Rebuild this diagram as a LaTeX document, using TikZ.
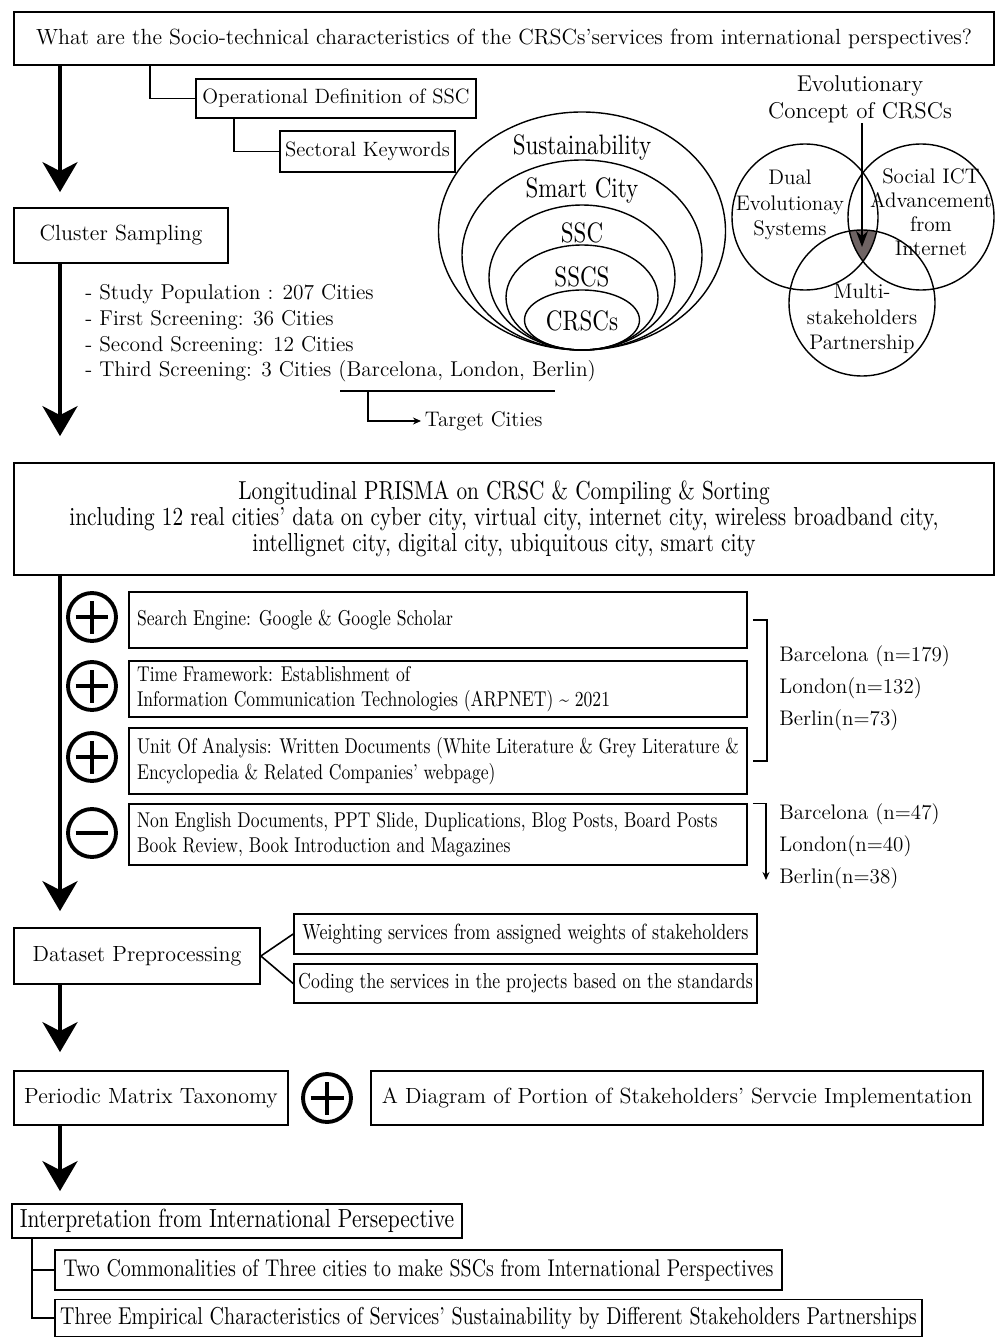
\documentclass[tikz,border=0pt]{standalone}
\usepackage{fontspec}
\newfontfamily\condfont{lmroman10-regular.otf}[FakeStretch=0.82,Ligatures=TeX]
\usepackage{tikz}
\usetikzlibrary{arrows.meta,calc}
\definecolor{VennCore}{HTML}{6F6464}

\begin{document}
\begin{tikzpicture}[
  x=0.02cm,y=-0.02cm,
  box/.style={draw,line width=1pt,inner sep=0pt,align=center,
    font=\fontsize{12.5}{14.6}\selectfont},
  condbox/.style={box,font=\condfont\fontsize{12.2}{14.6}\selectfont},
  widebox/.style={box,font=\condfont\fontsize{#1}{14.8}\selectfont},
  leftbox/.style={align=flush left,inner xsep=0.16cm,text width=#1},
  lab/.style={inner sep=0pt,align=center,font=\fontsize{12}{14.6}\selectfont},
  ringlab/.style={inner sep=0pt,font=\condfont\fontsize{16}{17}\selectfont},
  spinearrow/.style={-{Stealth[length=0.6cm,width=0.7cm,inset=0.18cm]},line width=2.2pt},
  thinarrow/.style={-{Stealth[length=0.16cm,width=0.14cm]},line width=0.7pt},
  link/.style={line width=0.9pt},
  plussym/.style={circle,draw,line width=2.2pt,minimum size=0.96cm,inner sep=0pt,
    path picture={\draw[line width=2.4pt]
      ([xshift=-0.33cm]path picture bounding box.center) -- ([xshift=0.33cm]path picture bounding box.center)
      ([yshift=-0.33cm]path picture bounding box.center) -- ([yshift=0.33cm]path picture bounding box.center);}},
  minussym/.style={circle,draw,line width=2.2pt,minimum size=0.96cm,inner sep=0pt,
    path picture={\draw[line width=2.4pt]
      ([xshift=-0.33cm]path picture bounding box.center) -- ([xshift=0.33cm]path picture bounding box.center);}}
]
  \useasboundingbox (0,0) rectangle (1000,1338);
  \coordinate (spine) at (60,0);

  % research question and definitions
  \node[box,minimum width=19.6cm,minimum height=1.06cm] (question) at (504,38.5)
    {What are the Socio-technical characteristics of the CRSCs'services from international perspectives?};
  \node[box,font=\fontsize{11.8}{14}\selectfont,minimum width=5.6cm,minimum height=0.78cm] (opdef) at (336,98.5)
    {Operational Definition of SSC};
  \node[box,font=\fontsize{11.8}{14}\selectfont,minimum width=3.5cm,minimum height=0.82cm] (keywords) at (367.5,151.5)
    {Sectoral Keywords};
  \coordinate (qtap) at (150,0);
  \coordinate (otap) at (234,0);
  \draw[link] (question.south -| qtap) |- (opdef.west);
  \draw[link] (opdef.south -| otap) |- (keywords.west);

  % sampling
  \node[box,minimum width=4.28cm,minimum height=1.1cm] (cluster) at (121,235.5) {Cluster Sampling};
  \node[lab,anchor=west,align=left,font=\fontsize{12.2}{14.6}\selectfont] (screening) at (85,333.5)
    {- Study Population : 207 Cities\\- First Screening: 36 Cities\\- Second Screening: 12 Cities\\
     - Third Screening: 3 Cities (Barcelona, London, Berlin)};
  \coordinate (ulstart) at (340,391);
  \coordinate (ulend) at (555,391);
  \coordinate (ulknee) at (368,391);
  \node[lab,anchor=west,inner sep=2pt] (target) at (421,421) {Target Cities};
  \draw[link] (ulstart) -- (ulend);
  \draw[thinarrow] (ulknee) |- (target.west);

  % nested concepts
  \foreach \rx/\ry/\ly/\txt/\nm in {143.5/119/147/Sustainability/sus, 120/95/190/Smart City/smart,
      93/72.5/233/SSC/ssc, 76/52.5/277/SSCS/sscs, 57.5/30/321/CRSCs/crsc} {
    \draw[line width=0.8pt] (582,350-\ry) ellipse [x radius=\rx, y radius=\ry];
    \node[ringlab] (ring-\nm) at (582,\ly) {\txt};
  }

  % venn
  \begin{scope}
    \clip (805,217) circle [radius=73];
    \clip (921,217) circle [radius=73];
    \fill[VennCore] (862,303) circle [radius=73];
  \end{scope}
  \draw[line width=0.8pt] (805,217) circle [radius=73];
  \draw[line width=0.8pt] (921,217) circle [radius=73];
  \draw[line width=0.8pt] (862,303) circle [radius=73];
  \node[lab,font=\fontsize{13}{15.6}\selectfont] (concept) at (860,99) {Evolutionary\\Concept of CRSCs};
  \node[lab] (dual) at (790,205) {Dual\\Evolutionay\\Systems};
  \node[lab,font=\fontsize{12}{13.6}\selectfont] (social) at (931,212) {Social ICT\\Advancement\\from\\Internet};
  \node[lab] (multi) at (862,319) {Multi-\\stakeholders\\Partnership};
  \coordinate (core) at (862,247);
  \draw[-{Stealth[length=0.32cm,width=0.24cm]},line width=0.8pt] (concept.south -| core) -- (core);

  \draw[spinearrow,shorten >=0.3cm] (question.south -| spine) -- (cluster.north -| spine);

  % review protocol
  \node[widebox=14.8,minimum width=19.6cm,minimum height=2.24cm] (prisma) at (504,519)
    {Longitudinal PRISMA on CRSC \& Compiling \& Sorting\\
     including 12 real cities' data on cyber city, virtual city, internet city, wireless broadband city,\\
     intellignet city, digital city, ubiquitous city, smart city};
  \draw[spinearrow,shorten >=0.52cm] (cluster.south -| spine) -- (prisma.north -| spine);

  \node[condbox,leftbox=12.04cm,minimum height=1.12cm] (search) at (438,620)
    {Search Engine: Google \& Google Scholar};
  \node[condbox,leftbox=12.04cm,minimum height=1.12cm] (timefw) at (438,689)
    {Time Framework: Establishment of\\Information Communication Technologies (ARPNET) \textasciitilde{} 2021};
  \node[condbox,leftbox=12.04cm,minimum height=1.32cm] (unit) at (438,761)
    {Unit Of Analysis: Written Documents (White Literature \& Grey Literature \&\\Encyclopedia \& Related Companies' webpage)};
  \node[condbox,leftbox=12.04cm,minimum height=1.22cm] (exclude) at (438,834.5)
    {Non English Documents, PPT Slide, Duplications, Blog Posts, Board Posts\\Book Review, Book Introduction and Magazines};
  \node[plussym] (incl1) at (92,617) {};
  \node[plussym] (incl2) at (92,686) {};
  \node[plussym] (incl3) at (92,757) {};
  \node[minussym] (excl) at (92,833) {};

  \draw[link] ([xshift=0.1cm]search.east) -- ++(14,0) |- ([xshift=0.1cm]unit.east);
  \node[lab,anchor=west,align=left,font=\fontsize{12}{18.2}\selectfont] (incount) at (779,688)
    {Barcelona (n=179)\\London(n=132)\\Berlin(n=73)};
  \coordinate (cutend) at (766,880);
  \draw[thinarrow] ([xshift=0.1cm]exclude.north east) -| (cutend);
  \node[lab,anchor=west,align=left,font=\fontsize{12}{18.2}\selectfont] (excount) at (779,846.5)
    {Barcelona (n=47)\\London(n=40)\\Berlin(n=38)};

  % processing and outputs
  \node[box,minimum width=4.92cm,minimum height=1.12cm] (dataset) at (137,956) {Dataset Preprocessing};
  \draw[spinearrow,shorten >=0.32cm] (prisma.south -| spine) -- (dataset.north -| spine);
  \node[widebox=12.5,minimum width=9.26cm,minimum height=0.8cm] (weight) at (525.5,934)
    {Weighting services from assigned weights of stakeholders};
  \node[widebox=12.3,minimum width=9.26cm,minimum height=0.78cm] (coding) at (525.5,983.5)
    {Coding the services in the projects based on the standards};
  \draw[link] (dataset.east) -- (weight.west);
  \draw[link] (dataset.east) -- (coding.west);

  \node[box,minimum width=5.48cm,minimum height=1.08cm] (periodic) at (151,1098) {Periodic Matrix Taxonomy};
  \node[plussym] (addsym) at (327,1098) {};
  \node[box,minimum width=12.24cm,minimum height=1.08cm] (portion) at (677,1098)
    {A Diagram of Portion of Stakeholders' Servcie Implementation};
  \draw[spinearrow,shorten >=0.36cm] (dataset.south -| spine) -- (periodic.north -| spine);

  \node[widebox=14.9,minimum width=9cm,minimum height=0.68cm] (interp) at (237,1221)
    {Interpretation from International Persepective};
  \draw[spinearrow,shorten >=0.24cm] (periodic.south -| spine) -- (interp.north -| spine);
  \node[widebox=13.8,minimum width=14.54cm,minimum height=0.8cm] (common) at (418.5,1270)
    {Two Commonalities of Three cities to make SSCs from International Perspectives};
  \node[widebox=13.9,minimum width=17.34cm,minimum height=0.74cm] (empir) at (488.5,1318)
    {Three Empirical Characteristics of Services' Sustainability by Different Stakeholders Partnerships};
  \coordinate (itap) at (32,0);
  \draw[link] (interp.south -| itap) |- (common.west);
  \draw[link] (interp.south -| itap) |- (empir.west);
\end{tikzpicture}
\end{document}
